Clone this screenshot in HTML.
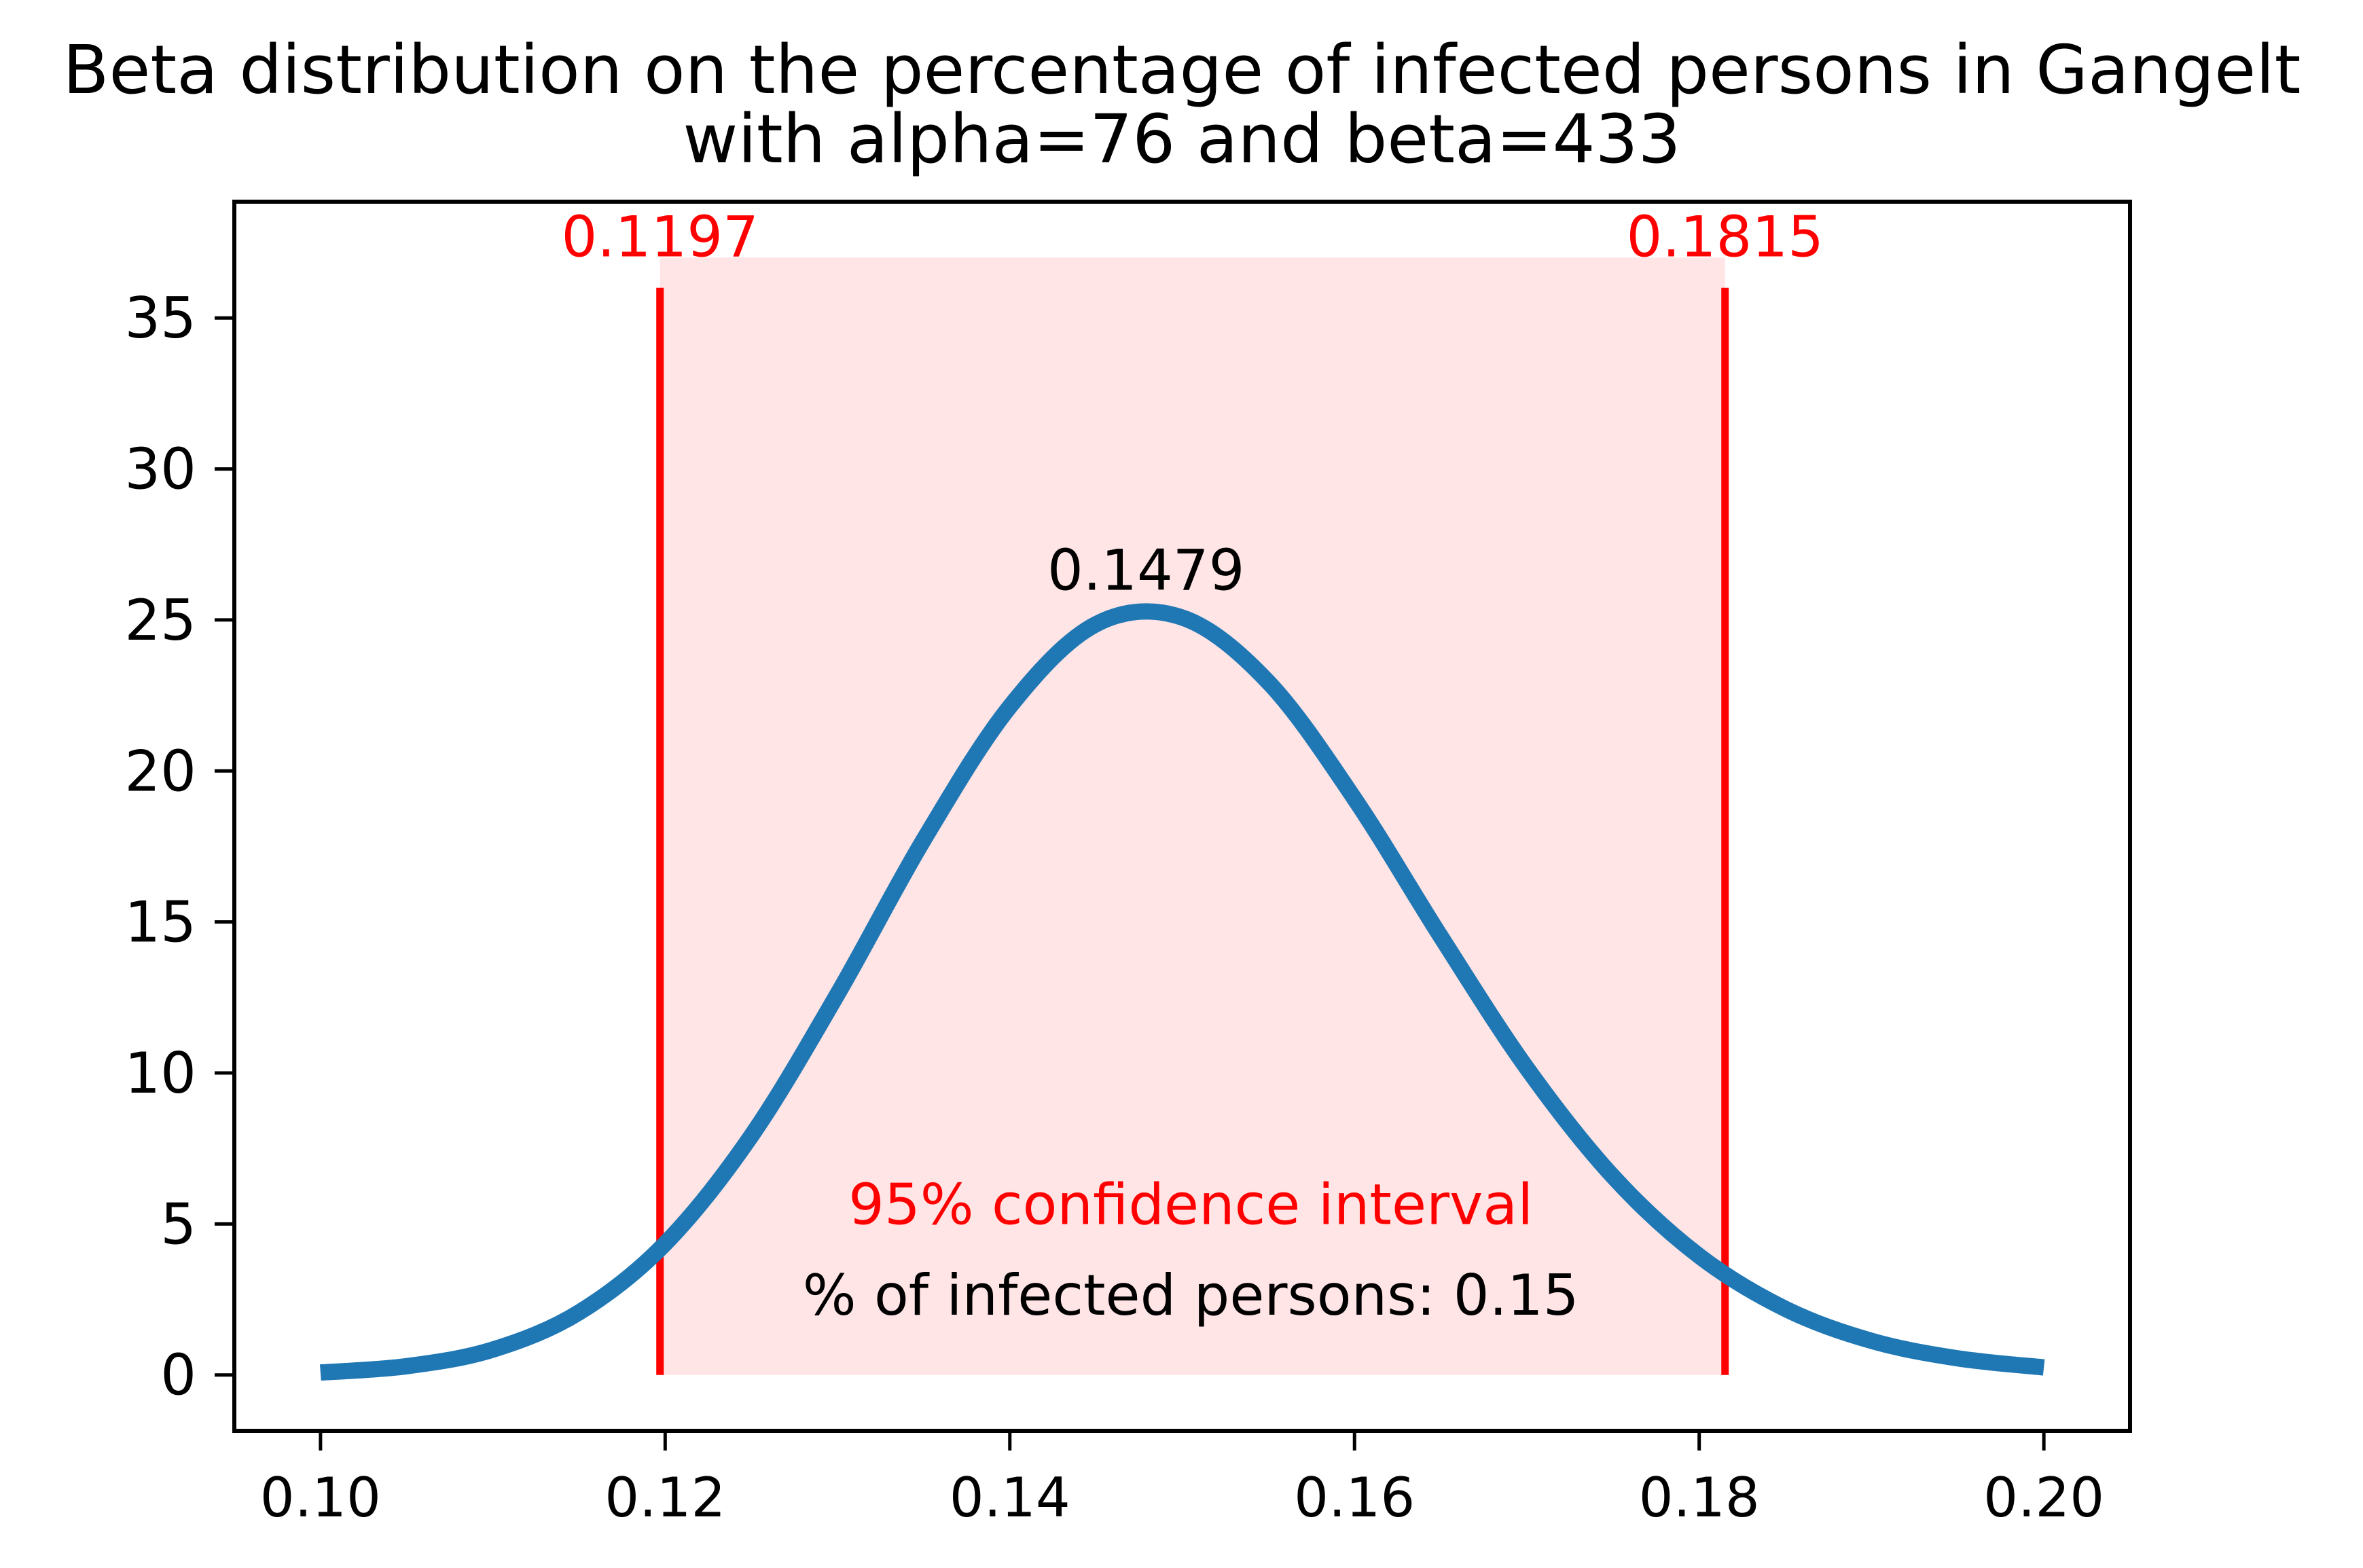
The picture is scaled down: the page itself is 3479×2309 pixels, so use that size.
<!DOCTYPE html>
<html><head><meta charset="utf-8"><style>
html,body{margin:0;padding:0;background:#fff}
svg{display:block;font-family:"DejaVu Sans","Liberation Sans",sans-serif}
</style></head><body>
<svg id="chart" width="3479" height="2309" viewBox="0 0 3479 2309" xmlns="http://www.w3.org/2000/svg">
<rect width="3479" height="2309" fill="#fff"/>
<text x="1740" y="137" font-size="99" text-anchor="middle">Beta distribution on the percentage of infected persons in Gangelt</text>
<text x="1740" y="239" font-size="99" text-anchor="middle">with alpha=76 and beta=433</text>
<g id="plot"></g>
</svg>
<script>
const xs = [0.100,0.105,0.110,0.115,0.120,0.125,0.130,0.135,0.140,0.145,0.150,0.155,0.160,0.165,0.170,0.175,0.180,0.185,0.190,0.195,0.200];
const density = [0.08,0.29,0.84,2.07,4.35,7.92,12.61,17.72,22.13,24.86,25.08,22.94,19.08,14.52,10.16,6.57,3.94,2.19,1.13,0.55,0.25];
const ciBounds = [0.1197, 0.1815];
const ciLabels = ["0.1197", "0.1815"];
const modeX = 0.1479;
const modeLabel = "0.1479";
const xTicks = [0.10,0.12,0.14,0.16,0.18,0.20];
const xTickLabels = ["0.10","0.12","0.14","0.16","0.18","0.20"];
const yTicks = [0,5,10,15,20,25,30,35];
const yTickLabels = ["0","5","10","15","20","25","30","35"];

const L=345,R=3136,T=297,B=2107;
const xMin=0.095,xMax=0.205,yMin=-1.85,yMax=38.85;
const X=v=>L+(v-xMin)/(xMax-xMin)*(R-L);
const Y=v=>B-(v-yMin)/(yMax-yMin)*(B-T);
const NS="http://www.w3.org/2000/svg";
const g=document.getElementById('plot');
function mk(tag,attrs,parent){const e=document.createElementNS(NS,tag);for(const k in attrs)e.setAttribute(k,attrs[k]);(parent||g).appendChild(e);return e;}

const shade=mk('rect',{x:X(ciBounds[0]),y:Y(37),width:X(ciBounds[1])-X(ciBounds[0]),height:Y(0)-Y(37),fill:'#ffe5e5'});



ciBounds.forEach((b,i)=>{
  const ln=mk('line',{x1:X(b),x2:X(b),y1:Y(0),y2:Y(36),stroke:'#ff0000','stroke-width':11});
  
  
  const t=mk('text',{x:X(b),y:Y(37)-2,'font-size':83,fill:'#ff0000','text-anchor':'middle'});
  t.textContent=ciLabels[i];
  
  
});

const pts=xs.map((x,i)=>[X(x),Y(density[i])]);
let d='M'+pts[0][0]+','+pts[0][1];
for(let i=0;i<pts.length-1;i++){
  const p0=pts[Math.max(0,i-1)],p1=pts[i],p2=pts[i+1],p3=pts[Math.min(pts.length-1,i+2)];
  const c1=[p1[0]+(p2[0]-p0[0])/6,p1[1]+(p2[1]-p0[1])/6];
  const c2=[p2[0]-(p3[0]-p1[0])/6,p2[1]-(p3[1]-p1[1])/6];
  d+=' C'+c1[0]+','+c1[1]+' '+c2[0]+','+c2[1]+' '+p2[0]+','+p2[1];
}
const curve=mk('path',{d:d,fill:'none',stroke:'#1f77b4','stroke-width':24});



const mt=mk('text',{x:X(modeX),y:Y(26),'font-size':83,'text-anchor':'middle'});
mt.textContent=modeLabel;


const ci=mk('text',{x:X(0.1505),y:Y(5),'font-size':83,fill:'#ff0000','text-anchor':'middle'});
ci.textContent='95% confidence interval';


const pc=mk('text',{x:X(0.1505),y:Y(2),'font-size':83,'text-anchor':'middle'});
pc.textContent='% of infected persons: 0.15';



const fr=mk('rect',{x:L,y:T,width:R-L,height:B-T,fill:'none',stroke:'#000','stroke-width':6});



xTicks.forEach((v,i)=>{
  const tk=mk('line',{x1:X(v),x2:X(v),y1:B,y2:B+29,stroke:'#000','stroke-width':5});
  
  
  const t=mk('text',{x:X(v),y:2233,'font-size':80,'text-anchor':'middle'});
  t.textContent=xTickLabels[i];
  
  
});
yTicks.forEach((v,i)=>{
  const tk=mk('line',{x1:L-29,x2:L,y1:Y(v),y2:Y(v),stroke:'#000','stroke-width':5});
  
  
  const t=mk('text',{x:L-56,y:Y(v)+29,'font-size':83,'text-anchor':'end'});
  t.textContent=yTickLabels[i];
  
  
});
</script>
</body></html>
